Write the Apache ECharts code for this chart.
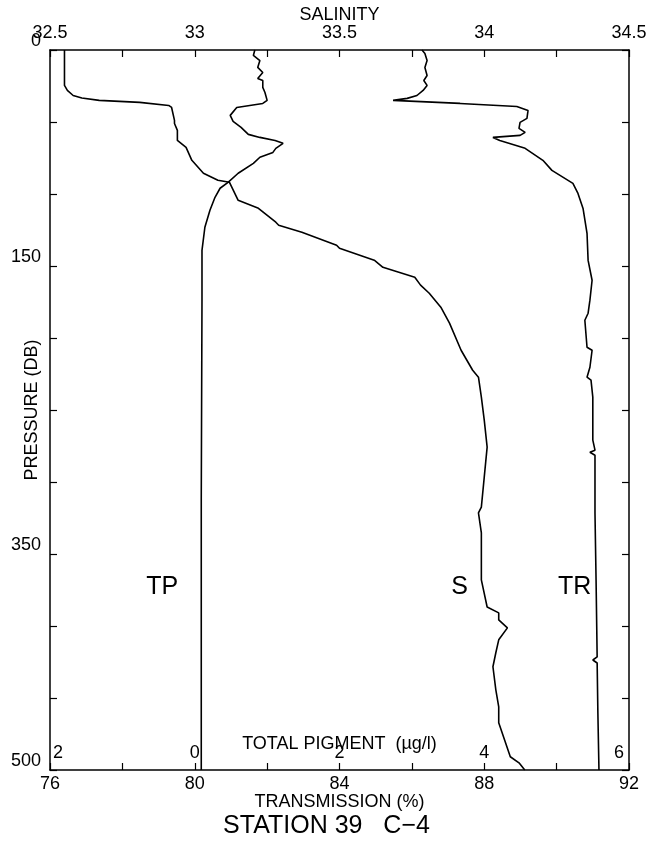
<!DOCTYPE html>
<html><head><meta charset="utf-8">
<script src="https://cdn.jsdelivr.net/npm/echarts@6/dist/echarts.min.js"></script>
<style>html,body{margin:0;padding:0;background:#fff}#c{width:653px;height:845px}</style>
</head><body><div id="c"></div>
<script>
// Salinity profile (S)
const pressureS = [0,24.6,28.1,31.6,33.3,35.0,36.4,38.5,39.9,48.9,51.0,55.8,62.8,67.6,76.6,85.6,90.5,91.9,104.4,109.9,119.6,121.7,126.6,135.6,137.7,146.0,150.9,157.8,163.3,168.9,178.6,189.7,208.5,222.4,227.2,241.1,257.0,275.8,296.6,317.4,321.5,335.4,368.0,386.8,390.9,395.8,401.3,409.6,418.6,428.3,444.3,456.1,467.2,479.0,490.8,495.0,500];
const salinity = [32.55,32.55,32.56,32.58,32.61,32.67,32.81,32.91,32.92,32.93,32.93,32.94,32.94,32.97,32.99,33.03,33.08,33.12,33.15,33.22,33.28,33.29,33.37,33.49,33.50,33.62,33.65,33.76,33.78,33.81,33.85,33.88,33.92,33.96,33.98,33.99,34.00,34.01,34.00,33.99,33.98,33.99,33.99,34.01,34.05,34.05,34.08,34.05,34.04,34.03,34.04,34.05,34.05,34.07,34.09,34.12,34.14];
// Total pigment profile (TP)
const pressureTP = [0,3.8,7.3,12.1,15.6,19.8,21.2,26.0,29.5,35.0,37.1,39.9,45.4,49.6,53.7,58.6,60.7,62.8,64.8,68.3,71.1,74.5,78.7,85.6,91.9,96.0,102.3,111.3,123.1,139.1,173.7,312,500];
const pigment = [0.83,0.81,0.90,0.87,0.94,0.87,0.94,0.94,0.97,1.00,0.94,0.58,0.49,0.53,0.64,0.74,0.90,1.11,1.22,1.12,1.08,0.90,0.81,0.60,0.46,0.35,0.28,0.21,0.14,0.10,0.10,0.09,0.09];
// Transmission profile (TR)
const pressureTR = [0,2.4,7.3,12.1,17.7,21.2,24.6,28.1,31.6,33.6,35.0,37.1,39.2,42.0,47.5,50.3,54.4,57.2,59.3,60.7,62.8,68.3,76.6,83.6,92.6,99.6,110.0,127.3,146.1,159.9,173.7,182.8,187.7,206.4,208.5,220.3,227.2,229.3,241.1,270.9,277.9,279.3,281.4,321.6,368.1,421.5,423.6,425.7,460.4,500];
const transmission = [86.28,86.36,86.42,86.36,86.42,86.33,86.42,86.31,86.14,85.87,85.48,87.33,88.90,89.21,89.18,88.99,88.96,89.13,88.99,88.24,88.43,89.13,89.62,89.87,90.45,90.59,90.73,90.84,90.87,90.98,90.92,90.87,90.78,90.84,90.98,90.92,90.84,90.95,91.00,91.00,91.06,90.92,91.06,91.06,91.09,91.12,91.00,91.12,91.14,91.17];

const salinityTicks = ['32.5','33','33.5','34','34.5'];
const transTicks = ['76','80','84','88','92'];
const pigmentTicks = ['2','0','2','4','6'];
const pressureTicks = ['0','150','350','500'];

const FONT = 'Liberation Sans';
const txt = {color:'#000', fontFamily: FONT, fontSize: 18};
const zip = (xs, ys) => xs.map((x, i) => [x, ys[i]]);

const chart = echarts.init(document.getElementById('c'), null, {renderer:'canvas'});
const lineStyle = {color:'#000', width:1.6};
const axLine = {show:true, onZero:false, lineStyle:{color:'#000', width:1.5}};
const axTick = {show:true, inside:true, length:7, lineStyle:{color:'#000', width:1.2}};
chart.setOption({
  animation:false,
  backgroundColor:'#fff',
  title:{text:'STATION 39   C\u22124', left:'center', top:809, textStyle:{color:'#000', fontFamily:FONT, fontSize:25, fontWeight:'normal'}},
  grid:{left:50, right:24, top:50, bottom:75, containLabel:false, outerBoundsMode:'none'},
  xAxis:[
    {type:'value', position:'bottom', min:76, max:92, interval:2,
     name:'TRANSMISSION (%)', nameLocation:'middle', nameGap:32, nameMoveOverlap:false, nameTextStyle:Object.assign({verticalAlign:'middle'}, txt),
     axisLine:axLine, axisTick:axTick,
     axisLabel:Object.assign({margin:5, showMinLabel:true, showMaxLabel:true,
       formatter:v => transTicks.includes(String(v)) ? String(v) : ''}, txt),
     splitLine:{show:false}},
    {type:'value', position:'top', min:32.5, max:34.5, interval:0.25,
     name:'SALINITY', nameLocation:'middle', nameGap:35, nameMoveOverlap:false, nameTextStyle:Object.assign({verticalAlign:'middle'}, txt),
     axisLine:axLine, axisTick:axTick,
     axisLabel:Object.assign({margin:8, showMinLabel:true, showMaxLabel:true,
       formatter:v => { const s = String(+v.toFixed(2)); return salinityTicks.includes(s) ? s : ''; }}, txt),
     splitLine:{show:false}},
    {type:'value', position:'bottom', min:-2, max:6, interval:2,
     name:'TOTAL PIGMENT  (\u00b5g/l)', nameLocation:'middle', nameGap:-26, nameMoveOverlap:false, nameTextStyle:Object.assign({verticalAlign:'middle'}, txt),
     axisLine:{show:false, onZero:false}, axisTick:{show:false}, splitLine:{show:false},
     axisLabel:Object.assign({inside:true, margin:8, showMinLabel:true, showMaxLabel:true,
       formatter:v => { const i = Math.round((v + 2) / 2); const t = pigmentTicks[i];
         if (i === 0) return '{l|' + t + '}'; if (i === 4) return '{r|' + t + '}'; return t; },
       rich:{l:Object.assign({padding:[0,0,0,16]}, txt), r:Object.assign({padding:[0,20,0,0]}, txt)}}, txt)}
  ],
  yAxis:[
    {type:'value', position:'left', inverse:true, min:0, max:500, interval:50,
     name:'PRESSURE (DB)', nameLocation:'middle', nameGap:18, nameMoveOverlap:false, nameTextStyle:Object.assign({verticalAlign:'middle'}, txt),
     axisLine:axLine, axisTick:axTick,
     axisLabel:Object.assign({margin:9, verticalAlign:'bottom', showMinLabel:true, showMaxLabel:true,
       formatter:v => pressureTicks.includes(String(v)) ? String(v) : ''}, txt),
     splitLine:{show:false}},
    {type:'value', position:'right', inverse:true, min:0, max:500, interval:50,
     axisLine:axLine, axisTick:axTick,
     axisLabel:{show:false}, splitLine:{show:false}}
  ],
  series:[
    {name:'S', type:'line', xAxisIndex:1, yAxisIndex:0, data:zip(salinity, pressureS), showSymbol:false, symbol:'none', lineStyle:lineStyle,
     markPoint:{symbol:'circle', symbolSize:0, data:[{coord:[33.915, 373], label:{show:true, position:'inside', formatter:'S', color:'#000', fontFamily:FONT, fontSize:25}}]}},
    {name:'TP', type:'line', xAxisIndex:2, yAxisIndex:0, data:zip(pigment, pressureTP), showSymbol:false, symbol:'none', lineStyle:lineStyle,
     markPoint:{symbol:'circle', symbolSize:0, data:[{coord:[-0.45, 373], label:{show:true, position:'inside', formatter:'TP', color:'#000', fontFamily:FONT, fontSize:25}}]}},
    {name:'TR', type:'line', xAxisIndex:0, yAxisIndex:0, data:zip(transmission, pressureTR), showSymbol:false, symbol:'none', lineStyle:lineStyle,
     markPoint:{symbol:'circle', symbolSize:0, data:[{coord:[90.5, 373], label:{show:true, position:'inside', formatter:'TR', color:'#000', fontFamily:FONT, fontSize:25}}]}}
  ]
});
</script></body></html>
